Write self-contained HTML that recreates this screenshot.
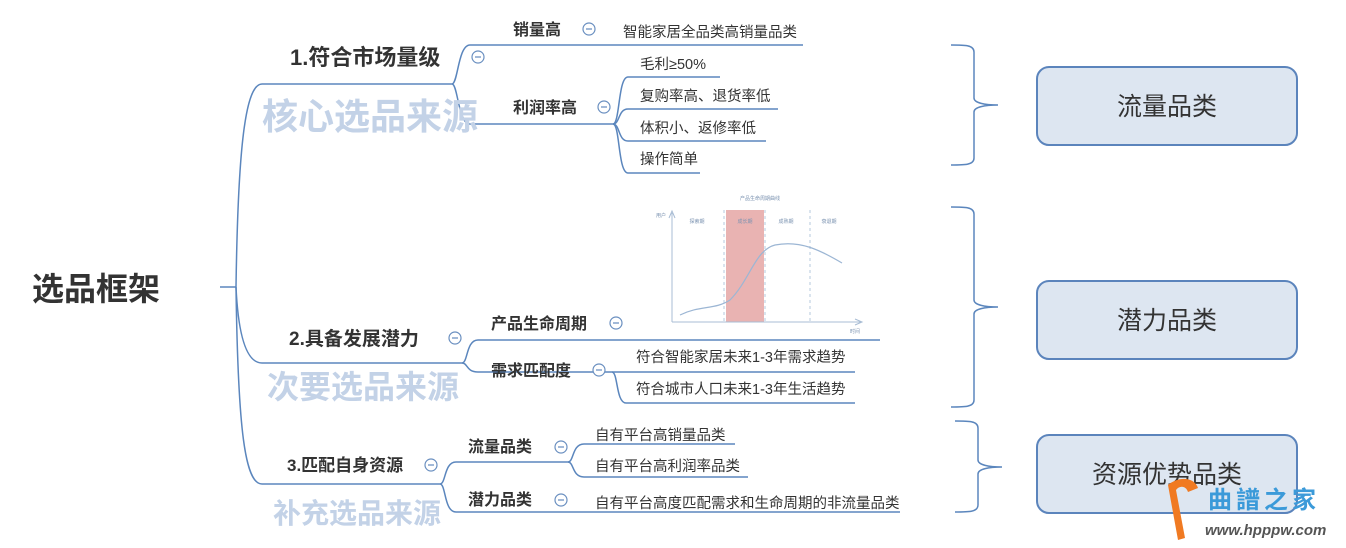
<!DOCTYPE html>
<html><head><meta charset="utf-8"><style>
html,body{margin:0;padding:0;background:#fff;}
svg{display:block;}
text{font-family:"Liberation Sans","Noto Sans CJK SC",sans-serif;}
.b{font-weight:bold;fill:#333;}
.n{fill:#333;font-size:14.5px;}
.w{font-weight:bold;fill:#c3d2e7;}
</style></head><body>
<svg width="1346" height="548" viewBox="0 0 1346 548" xmlns="http://www.w3.org/2000/svg">
<g fill="none" stroke="#5b86bd" stroke-width="1.5">
<path d="M220,287 H236"/>
<path d="M236,287 C238,150 245,84 262,84 H452"/>
<path d="M236,287 C238,330 245,363 262,363 H462"/>
<path d="M236,287 C238,430 245,484 262,484 H440"/>
<path d="M452,84 C458,84 458,45 470,45 H803"/>
<path d="M452,84 C458,84 458,124 470,124 H613"/>
<path d="M613,124 C620,124 618,77 628,77 H720"/>
<path d="M613,124 C620,124 618,109 628,109 H778"/>
<path d="M613,124 C620,124 618,141 628,141 H766"/>
<path d="M613,124 C620,124 618,173 628,173 H700"/>
<path d="M462,363 C468,363 466,340 478,340 H880"/>
<path d="M462,363 C468,363 466,372 478,372 H612"/>
<path d="M612,372 C618,372 616,372 626,372 H855"/>
<path d="M612,372 C618,372 616,403 626,403 H855"/>
<path d="M440,484 C446,484 444,462 456,462 H568"/>
<path d="M440,484 C446,484 444,512 456,512 H900"/>
<path d="M568,462 C574,462 572,444 584,444 H735"/>
<path d="M568,462 C574,462 572,477 584,477 H748"/>
<path d="M951,45 C965,45 974,45 974,52 V98 C974,103 985,105 998,105 C985,105 974,107 974,112 V158 C974,165 965,165 951,165"/>
<path d="M951,207 C965,207 974,207 974,214 V300 C974,305 985,307 998,307 C985,307 974,309 974,314 V400 C974,407 965,407 951,407"/>
<path d="M955,421 C969,421 978,421 978,428 V460 C978,465 989,467 1002,467 C989,467 978,469 978,474 V505 C978,512 969,512 955,512"/>
</g>
<g fill="#fff" stroke="#6a8fc0" stroke-width="1.2">
<circle cx="478" cy="57" r="6"/><circle cx="589" cy="29" r="6"/><circle cx="604" cy="107" r="6"/>
<circle cx="455" cy="338" r="6"/><circle cx="616" cy="323" r="6"/><circle cx="599" cy="370" r="6"/>
<circle cx="431" cy="465" r="6"/><circle cx="561" cy="447" r="6"/><circle cx="561" cy="500" r="6"/>
</g>
<g stroke="#6a8fc0" stroke-width="1.2">
<path d="M475,57h6M586,29h6M601,107h6M452,338h6M613,323h6M596,370h6M428,465h6M558,447h6M558,500h6"/>
</g>
<g>
<rect x="726" y="210" width="38" height="112" fill="#e9b3b2"/>
<g stroke="#b5c8de" stroke-dasharray="3,3" stroke-width="1"><path d="M724,210V322M765,210V322M810,210V322"/></g>
<g stroke="#a8bcd4" fill="none" stroke-width="1"><path d="M672,322V213M669,218L672,211L675,218M672,322H862M855,319L862,322L855,325"/></g>
<path d="M680,315 C700,305 715,310 730,300 C750,280 755,250 775,245 C800,240 820,250 842,263" fill="none" stroke="#9cb6d4" stroke-width="1.2"/>
<text x="760" y="200" font-size="5" fill="#7a92b0" text-anchor="middle">产品生命周期曲线</text>
<text x="656" y="217" font-size="5" fill="#7a92b0">用户</text>
<text x="697" y="223" font-size="5" fill="#7a92b0" text-anchor="middle">探索期</text>
<text x="745" y="223" font-size="5" fill="#7a92b0" text-anchor="middle">成长期</text>
<text x="786" y="223" font-size="5" fill="#7a92b0" text-anchor="middle">成熟期</text>
<text x="829" y="223" font-size="5" fill="#7a92b0" text-anchor="middle">衰退期</text>
<text x="855" y="333" font-size="5" fill="#7a92b0" text-anchor="middle">时间</text>
</g>
<text class="w" x="262" y="129" font-size="36">核心选品来源</text>
<text class="w" x="267" y="398" font-size="32">次要选品来源</text>
<text class="w" x="273" y="523" font-size="28">补充选品来源</text>
<text class="b" x="32" y="300" font-size="32">选品框架</text>
<text class="b" x="290" y="65" font-size="22">1.符合市场量级</text>
<text class="b" x="513" y="35" font-size="16">销量高</text>
<text class="n" x="623" y="37">智能家居全品类高销量品类</text>
<text class="b" x="513" y="113" font-size="16">利润率高</text>
<text class="n" x="640" y="69">毛利≥50%</text>
<text class="n" x="640" y="101">复购率高、退货率低</text>
<text class="n" x="640" y="133">体积小、返修率低</text>
<text class="n" x="640" y="164">操作简单</text>
<text class="b" x="289" y="345" font-size="19">2.具备发展潜力</text>
<text class="b" x="491" y="329" font-size="16">产品生命周期</text>
<text class="b" x="491" y="376" font-size="16">需求匹配度</text>
<text class="n" x="636" y="362">符合智能家居未来1-3年需求趋势</text>
<text class="n" x="636" y="394">符合城市人口未来1-3年生活趋势</text>
<text class="b" x="287" y="471" font-size="17">3.匹配自身资源</text>
<text class="b" x="468" y="452" font-size="16">流量品类</text>
<text class="b" x="468" y="505" font-size="16">潜力品类</text>
<text class="n" x="595" y="440">自有平台高销量品类</text>
<text class="n" x="595" y="471">自有平台高利润率品类</text>
<text class="n" x="595" y="508">自有平台高度匹配需求和生命周期的非流量品类</text>
<g fill="#dde6f1" stroke="#5b84bc" stroke-width="2">
<rect x="1037" y="67" width="260" height="78" rx="12"/>
<rect x="1037" y="281" width="260" height="78" rx="12"/>
<rect x="1037" y="435" width="260" height="78" rx="12"/>
</g>
<g font-size="25" fill="#333" text-anchor="middle">
<text x="1167" y="115">流量品类</text>
<text x="1167" y="329">潜力品类</text>
<text x="1167" y="483">资源优势品类</text>
</g>
<path d="M1168,485 C1180,475 1195,478 1198,488 L1188,492 C1186,486 1180,485 1176,490 L1185,538 L1178,540 Z" fill="#f07a22"/>
<text x="1208" y="508" font-size="24" font-weight="bold" fill="#3b9ad9" letter-spacing="4">曲譜之家</text>
<text x="1205" y="535" font-size="15" font-weight="bold" fill="#555" font-style="italic">www.hpppw.com</text>
</svg>
</body></html>
